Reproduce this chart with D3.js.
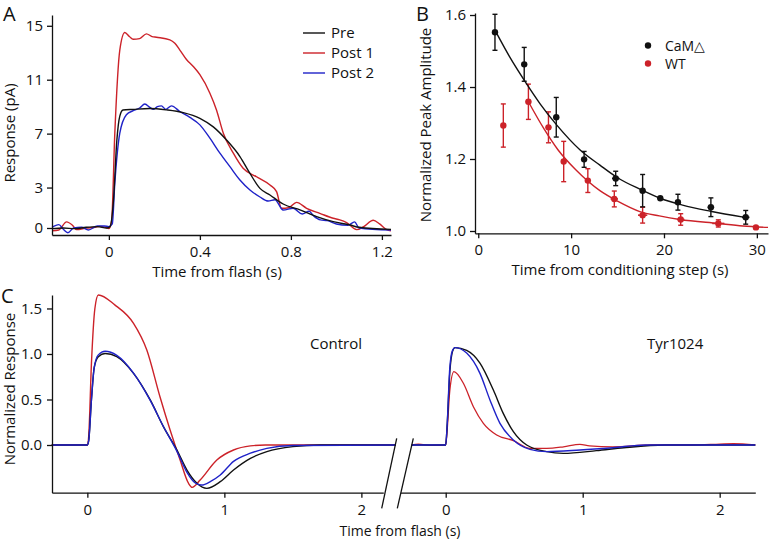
<!DOCTYPE html>
<html><head><meta charset="utf-8">
<script src="https://cdn.jsdelivr.net/npm/d3@7/dist/d3.min.js"></script>
<style>
body{margin:0;background:#fff;}
svg text{font-family:"Open Sans",sans-serif;fill:#111;}
</style></head>
<body>
<svg id="c" width="769" height="540"></svg>
<script>
// ---------- Panel A data: time (s), response (pA) ----------
const aPre = [[-0.25,-0.05],[-0.2,0.0],[-0.15,-0.05],[-0.1,0.05],[-0.05,0.1],[-0.01,0.0],[0.005,0.1],[0.02,2.0],[0.035,6.5],[0.048,8.3],[0.062,8.75],[0.107,8.8],[0.18,8.86],[0.253,8.76],[0.327,8.56],[0.4,8.14],[0.459,7.5],[0.517,6.53],[0.576,5.3],[0.62,4.05],[0.664,2.94],[0.708,2.45],[0.766,1.78],[0.84,1.34],[0.913,0.84],[0.986,0.47],[1.06,0.22],[1.1,0.05],[1.24,-0.1]];
const aPost1 = [[-0.25,-0.2],[-0.22,-0.15],[-0.186,0.45],[-0.16,0.2],[-0.142,-0.12],[-0.098,0.0],[-0.06,0.05],[-0.04,0.12],[-0.015,0.05],[0.0,-0.05],[0.012,0.5],[0.026,7.0],[0.048,13.2],[0.07,14.5],[0.09,14.2],[0.107,14.0],[0.135,14.05],[0.165,14.4],[0.19,14.2],[0.209,14.15],[0.268,13.96],[0.29,13.7],[0.312,13.2],[0.341,12.5],[0.37,12.0],[0.4,11.37],[0.444,10.0],[0.473,8.76],[0.503,7.03],[0.547,5.55],[0.59,4.43],[0.649,3.8],[0.708,3.19],[0.737,2.7],[0.759,1.46],[0.79,1.5],[0.825,1.9],[0.869,1.46],[0.927,1.09],[0.986,0.72],[1.015,0.6],[1.045,0.4],[1.089,-0.12],[1.12,0.1],[1.162,0.57],[1.19,0.3],[1.221,-0.12],[1.24,-0.2]];
const aPost2 = [[-0.25,0.05],[-0.22,0.25],[-0.2,-0.1],[-0.18,-0.35],[-0.155,0.0],[-0.12,0.05],[-0.09,-0.15],[-0.05,0.15],[-0.02,0.15],[0.0,0.1],[0.015,0.3],[0.026,3.3],[0.048,7.03],[0.077,8.4],[0.107,8.7],[0.135,8.9],[0.158,9.2],[0.18,8.95],[0.195,8.8],[0.213,9.0],[0.231,9.06],[0.25,8.8],[0.275,9.06],[0.312,8.64],[0.356,8.2],[0.4,7.65],[0.444,6.66],[0.488,5.55],[0.532,4.55],[0.576,3.56],[0.62,2.82],[0.664,2.3],[0.7,2.0],[0.73,2.1],[0.766,1.33],[0.81,1.46],[0.85,1.04],[0.88,1.24],[0.9,0.9],[0.93,0.6],[0.96,0.55],[1.0,0.3],[1.05,0.2],[1.08,0.45],[1.1,0.0],[1.24,-0.15]];
const aXTicks = [0,0.4,0.8,1.2];
const aYTicks = [0,3,7,11,15];
const aLegend = ["Pre","Post 1","Post 2"];

// ---------- Panel B data ----------
const bCamT   = [1.8,4.95,8.4,11.4,14.8,17.7,19.6,21.5,25.05,28.8];
const bCamY   = [1.552,1.463,1.316,1.199,1.146,1.112,1.091,1.080,1.066,1.038];
const bCamErr = [0.05,0.047,0.055,0.022,0.02,0.045,0,0.022,0.026,0.019];
const bCamXErr= [0.3,0.2,0.3,0.2,0.4,0.3,0.3,0.3,0.35,0.4];
const bWtT    = [2.7,5.4,7.56,9.2,11.8,14.65,17.7,21.8,25.85,29.9];
const bWtY    = [1.293,1.359,1.288,1.193,1.14,1.089,1.044,1.032,1.021,1.01];
const bWtErr  = [0.06,0.049,0.043,0.056,0.033,0.022,0.022,0.016,0.01,0];
const bWtXErr = [0,0.3,0.3,0.2,0.3,0.4,0.5,0.4,0.65,0.3];
const bCamFit = [[1.8,1.558],[3.4,1.483],[5.05,1.415],[6.7,1.352],[8.46,1.294],[10.97,1.225],[13.1,1.183],[15,1.148],[17.5,1.115],[19.57,1.091],[22,1.072],[25,1.055],[28.7,1.038]];
const bWtFit  = [[5.4,1.359],[7,1.287],[8.6,1.225],[10.5,1.17],[13.1,1.112],[15,1.083],[17.4,1.054],[19.5,1.042],[21.7,1.032],[25.8,1.021],[28.5,1.014],[31.2,1.010]];
const bXTicks = [0,10,20,30];
const bYTicks = [1.0,1.2,1.4,1.6];
const bLegend = ["CaM\u25B3","WT"];

// ---------- Panel C data: normalized response ----------
const ctrlPre = [[-0.26,0],[0,0],[0.01,0.05],[0.03,0.5],[0.05,0.85],[0.08,0.97],[0.13,1.005],[0.215,0.97],[0.337,0.787],[0.459,0.495],[0.556,0.2],[0.654,-0.055],[0.727,-0.275],[0.8,-0.42],[0.872,-0.476],[0.97,-0.403],[1.067,-0.275],[1.19,-0.147],[1.31,-0.073],[1.5,-0.018],[1.7,0],[2.25,0]];
const ctrlPost1 = [[-0.26,0],[0,0],[0.01,0.1],[0.03,0.9],[0.055,1.5],[0.08,1.648],[0.2,1.54],[0.337,1.337],[0.434,1.044],[0.53,0.53],[0.604,0.165],[0.677,-0.165],[0.738,-0.42],[0.765,-0.465],[0.823,-0.385],[0.945,-0.165],[1.067,-0.055],[1.19,-0.01],[1.3,0],[2.25,0]];
const ctrlPost2 = [[-0.26,0],[0,0],[0.01,0.05],[0.03,0.5],[0.05,0.85],[0.08,0.99],[0.13,1.03],[0.215,0.985],[0.337,0.79],[0.459,0.49],[0.556,0.2],[0.654,-0.07],[0.727,-0.3],[0.79,-0.42],[0.835,-0.44],[0.9,-0.4],[0.97,-0.33],[1.067,-0.18],[1.19,-0.09],[1.31,-0.037],[1.5,-0.005],[2.25,0]];
const tyrPre = [[-0.248,0],[0,0],[0.01,0.2],[0.03,0.8],[0.05,1.03],[0.068,1.07],[0.153,1.04],[0.25,0.9],[0.348,0.604],[0.42,0.348],[0.494,0.147],[0.591,0.0],[0.737,-0.073],[0.859,-0.092],[1.1,-0.062],[1.3,-0.03],[1.6,0],[2.26,0]];
const tyrPost1 = [[-0.248,0],[-0.2,0.01],[-0.1,-0.005],[0,0],[0.01,0.15],[0.03,0.6],[0.06,0.806],[0.129,0.678],[0.202,0.421],[0.275,0.238],[0.372,0.11],[0.494,0.048],[0.615,-0.037],[0.737,-0.037],[0.86,-0.02],[0.98,0.007],[1.05,-0.01],[1.22,-0.02],[1.5,0],[1.8,0],[2.0,0.01],[2.1,0.015],[2.26,0]];
const tyrPost2 = [[-0.248,0],[0,0],[0.01,0.2],[0.03,0.85],[0.05,1.04],[0.068,1.07],[0.153,1.01],[0.25,0.787],[0.323,0.495],[0.396,0.238],[0.494,0.055],[0.615,-0.048],[0.737,-0.073],[0.98,-0.055],[1.22,-0.03],[1.46,0],[2.26,0]];
const cXTicks = [0,1,2];
const cYTicks = [0,0.5,1.0,1.5];
const cLabels = ["Control","Tyr1024"];

const BLACK="#111111", RED="#cc2229", BLUE="#1f22c8";
const svg = d3.select("#c");

function styleAxis(g){
  g.selectAll("path.domain").attr("stroke","#111").attr("stroke-width",1.3);
  g.selectAll(".tick line").attr("stroke","#111").attr("stroke-width",1.3);
  g.selectAll(".tick text").style("font-size","15px").attr("fill","#111").style("font-family","'Open Sans',sans-serif");
}
function trace(data,x,y,color,w){
  svg.append("path").datum(data)
    .attr("d",d3.line().x(d=>x(d[0])).y(d=>y(d[1])).curve(d3.curveMonotoneX))
    .attr("fill","none").attr("stroke",color).attr("stroke-width",w||1.4).attr("stroke-linejoin","round");
}
function txt(x,y,s,size,anchor,rot){
  const t=svg.append("text").attr("x",x).attr("y",y).text(s).style("font-size",size+"px").attr("text-anchor",anchor||"start");
  if(rot) t.attr("transform",`rotate(${rot},${x},${y})`);
  return t;
}

// ================= Panel A =================
const xA = d3.scaleLinear().domain([-0.25,1.24]).range([52,391]);
const yA = d3.scaleLinear().domain([-0.52,15.8]).range([235,15]);
trace(aPost1,xA,yA,RED);
trace(aPost2,xA,yA,BLUE);
trace(aPre,xA,yA,BLACK);
svg.append("g").attr("transform","translate(0,235)")
  .call(d3.axisBottom(xA).tickValues(aXTicks).tickSize(5).tickSizeOuter(0).tickPadding(6).tickFormat(d=>d===0?"0":d.toFixed(1))).call(styleAxis);
svg.append("g").attr("transform","translate(52,0)")
  .call(d3.axisLeft(yA).tickValues(aYTicks).tickSize(5).tickSizeOuter(0).tickPadding(4)).call(styleAxis);
txt(217,277,"Time from flash (s)",15,"middle");
txt(15,133,"Response (pA)",15,"middle",-90);
txt(3,21,"A",20);
[BLACK,RED,BLUE].forEach((c,i)=>{
  const yy=33+i*20;
  svg.append("line").attr("x1",303).attr("x2",325).attr("y1",yy).attr("y2",yy).attr("stroke",c).attr("stroke-width",1.4);
  txt(331,yy+5,aLegend[i],15);
});

// ================= Panel B =================
const xB = d3.scaleLinear().domain([-0.35,31.2]).range([475,768]);
const yB = d3.scaleLinear().domain([0.9936,1.6056]).range([233.3,13]);
function series(ts,ys,es,xes,fit,color){
  trace(fit,xB,yB,color,1.4);
  ts.forEach((t,i)=>{
    const x=xB(t), y=yB(ys[i]);
    if(es[i]>0){
      const y1=yB(ys[i]+es[i]), y2=yB(ys[i]-es[i]);
      svg.append("line").attr("x1",x).attr("x2",x).attr("y1",y1).attr("y2",y2).attr("stroke",color).attr("stroke-width",1.4);
      [y1,y2].forEach(yy=>svg.append("line").attr("x1",x-2.5).attr("x2",x+2.5).attr("y1",yy).attr("y2",yy).attr("stroke",color).attr("stroke-width",1.4));
    }
    if(xes[i]>0){
      svg.append("line").attr("x1",xB(t-xes[i])).attr("x2",xB(t+xes[i])).attr("y1",y).attr("y2",y).attr("stroke",color).attr("stroke-width",1.6);
    }
    svg.append("circle").attr("cx",x).attr("cy",y).attr("r",3.2).attr("fill",color);
  });
}
series(bWtT,bWtY,bWtErr,bWtXErr,bWtFit,RED);
series(bCamT,bCamY,bCamErr,bCamXErr,bCamFit,BLACK);
svg.append("g").attr("transform","translate(0,233.3)")
  .call(d3.axisBottom(xB).tickValues(bXTicks).tickSize(5).tickSizeOuter(0).tickPadding(6)).call(styleAxis);
svg.append("g").attr("transform","translate(475,0)")
  .call(d3.axisLeft(yB).tickValues(bYTicks).tickSize(5).tickSizeOuter(0).tickPadding(4).tickFormat(d3.format(".1f"))).call(styleAxis);
txt(620,275,"Time from conditioning step (s)",15,"middle");
txt(431,125,"Normalized Peak Amplitude",15,"middle",-90);
txt(416,21,"B",20);
[BLACK,RED].forEach((c,i)=>{
  const yy=45.5+i*18;
  svg.append("circle").attr("cx",648).attr("cy",yy).attr("r",3.2).attr("fill",c);
  txt(665,yy+5,bLegend[i],14);
});

// ================= Panel C =================
const xCL = d3.scaleLinear().domain([-0.258,2.16]).range([52,383.3]);
const xCR = d3.scaleLinear().domain([-0.33,2.26]).range([400.5,755.3]);
const yC  = d3.scaleLinear().domain([-0.524,1.648]).range([492.7,295]);
trace(ctrlPost1,xCL,yC,RED);
trace(ctrlPre,xCL,yC,BLACK);
trace(ctrlPost2,xCL,yC,BLUE);
trace(tyrPost1,xCR,yC,RED,1.3);
trace(tyrPre,xCR,yC,BLACK);
trace(tyrPost2,xCR,yC,BLUE);
svg.append("g").attr("transform","translate(0,492.7)")
  .call(d3.axisBottom(xCL).tickValues(cXTicks).tickSize(5).tickSizeOuter(0).tickPadding(7).tickFormat(d3.format("d"))).call(styleAxis);
svg.append("g").attr("transform","translate(0,492.7)")
  .call(d3.axisBottom(xCR).tickValues(cXTicks).tickSize(5).tickSizeOuter(0).tickPadding(7).tickFormat(d3.format("d"))).call(styleAxis);
svg.append("g").attr("transform","translate(52,0)")
  .call(d3.axisLeft(yC).tickValues(cYTicks).tickSize(5).tickSizeOuter(0).tickPadding(5).tickFormat(d3.format(".1f"))).call(styleAxis);
// axis break marks
const bx1 = xCL.range()[1], bx2 = xCR.range()[0];
[[bx1-1.6,bx1+13.4],[bx2-3.2,bx2+12.8]].forEach(([xb,xt])=>{
  svg.append("line").attr("x1",xb).attr("y1",508.3).attr("x2",xt).attr("y2",438.3).attr("stroke","#111").attr("stroke-width",1.3);
});
txt(400,536,"Time from flash (s)",14,"middle");
txt(15,389,"Normalized Response",15,"middle",-90);
txt(1,303,"C",20);
txt(310,349,cLabels[0],15);
txt(647,349,cLabels[1],15);
</script>
</body></html>
